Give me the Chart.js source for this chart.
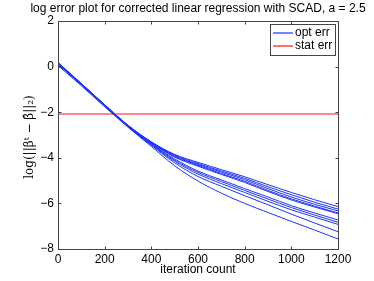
<!DOCTYPE html>
<html><head><meta charset="utf-8">
<script src="https://cdn.jsdelivr.net/npm/chart.js@4"></script>
<style>html,body{margin:0;padding:0;background:#fff}canvas{display:block}</style>
</head><body>
<canvas id="c" width="374" height="281"></canvas>
<script>
const titleText = "log error plot for corrected linear regression with SCAD, a = 2.5";
const xTitle = "iteration count";
const yTitle = "log(||\u03B2\u1D57 \u2212 \u03B2\u0302||\u2082)";
const legendLabels = ["opt err", "stat err"];
const iterations = [0,100,200,300,400,500,600,700,800,900,1000,1100,1200];
const optErr1 = [0.18,-0.74,-1.67,-2.57,-3.30,-3.85,-4.20,-4.52,-4.83,-5.18,-5.52,-5.84,-6.14];
const optErr2 = [0.17,-0.75,-1.68,-2.58,-3.31,-3.88,-4.25,-4.58,-4.90,-5.27,-5.62,-5.95,-6.25];
const optErr3 = [0.16,-0.75,-1.68,-2.58,-3.32,-3.91,-4.29,-4.63,-4.96,-5.35,-5.72,-6.04,-6.33];
const optErr4 = [0.16,-0.76,-1.69,-2.59,-3.34,-3.94,-4.33,-4.69,-5.03,-5.43,-5.80,-6.12,-6.42];
const optErr5 = [0.15,-0.76,-1.69,-2.60,-3.35,-3.97,-4.37,-4.73,-5.08,-5.48,-5.85,-6.16,-6.45];
const optErr6 = [0.14,-0.77,-1.70,-2.61,-3.38,-4.05,-4.58,-4.97,-5.35,-5.72,-6.10,-6.42,-6.73];
const optErr7 = [0.13,-0.77,-1.70,-2.62,-3.40,-4.10,-4.64,-5.04,-5.43,-5.81,-6.18,-6.51,-6.83];
const optErr8 = [0.12,-0.78,-1.71,-2.63,-3.42,-4.15,-4.71,-5.13,-5.52,-5.91,-6.28,-6.60,-6.92];
const optErr9 = [0.10,-0.80,-1.73,-2.64,-3.45,-4.22,-4.82,-5.25,-5.66,-6.06,-6.47,-6.86,-7.24];
const optErr10 = [0.05,-0.84,-1.76,-2.66,-3.50,-4.35,-5.02,-5.55,-6.00,-6.40,-6.79,-7.17,-7.56];
const statErrX = [0,1200];
const statErrY = [-2.08,-2.08];
const xTicks = [0,200,400,600,800,1000,1200];
const yTicks = [-8,-6,-4,-2,0,2];

const BLUE = 'rgb(30,50,255)';
const RED = 'rgb(255,20,20)';
const FONT = '"Liberation Sans", Arial, sans-serif';

const optSeries = [optErr1,optErr2,optErr3,optErr4,optErr5,optErr6,optErr7,optErr8,optErr9,optErr10];
const datasets = optSeries.map((s,i)=>({
  label: legendLabels[0],
  data: iterations.map((x,j)=>({x:x,y:s[j]})),
  borderColor: BLUE, borderWidth: 1, pointRadius: 0, fill:false,
  cubicInterpolationMode: 'monotone'
}));
datasets.push({
  label: legendLabels[1],
  data: statErrX.map((x,j)=>({x:x,y:statErrY[j]})),
  borderColor: RED, borderWidth: 1.2, pointRadius: 0, fill:false
});

const deco = {
  id:'deco',
  afterDraw(chart){
    const ctx = chart.ctx, a = chart.chartArea;
    const xs = chart.scales.x, ys = chart.scales.y;
    ctx.save();
    ctx.strokeStyle = '#444'; ctx.lineWidth = 1;
    const L = Math.round(a.left)+0.5, R = Math.round(a.right)+0.5, T = Math.round(a.top)+0.5, B = Math.round(a.bottom)+0.5;
    ctx.strokeRect(L, T, R-L, B-T);
    ctx.beginPath();
    xTicks.forEach(v=>{ const p = Math.round(xs.getPixelForValue(v))+0.5;
      ctx.moveTo(p,B); ctx.lineTo(p,B-3); ctx.moveTo(p,T); ctx.lineTo(p,T+3); });
    yTicks.forEach(v=>{ const p = Math.round(ys.getPixelForValue(v))+0.5;
      ctx.moveTo(L,p); ctx.lineTo(L+3,p); ctx.moveTo(R,p); ctx.lineTo(R-3,p); });
    ctx.stroke();
    // title
    ctx.fillStyle = '#000';
    ctx.font = '12px ' + FONT;
    ctx.textAlign = 'center'; ctx.textBaseline = 'middle';
    ctx.fillText(titleText, (a.left+a.right)/2, 9);
    ctx.fillText(xTitle, (a.left+a.right)/2, 270);
    // y title
    ctx.save();
    ctx.translate(30, (a.top+a.bottom)/2 + 2);
    ctx.rotate(-Math.PI/2);
    ctx.font = '12px "DejaVu Serif", "Liberation Serif", serif';
    ctx.fillText(yTitle, 0, 0);
    ctx.restore();
    // legend
    const lx = 270, ly = 24, lw = 65, lh = 31;
    ctx.fillStyle = '#fff';
    ctx.fillRect(lx, ly, lw, lh);
    ctx.strokeStyle = '#444';
    ctx.strokeRect(lx+0.5, ly+0.5, lw, lh);
    const colors = [BLUE, RED];
    legendLabels.forEach((lab,i)=>{
      const yy = ly + 9 + i*13;
      ctx.strokeStyle = colors[i]; ctx.lineWidth = 1.2;
      ctx.beginPath(); ctx.moveTo(lx+3, yy); ctx.lineTo(lx+23, yy); ctx.stroke();
      ctx.fillStyle = '#000'; ctx.textAlign='left'; ctx.font = '12px ' + FONT;
      ctx.fillText(lab, lx+25, yy);
    });
    ctx.restore();
  }
};

new Chart(document.getElementById('c'), {
  type:'line',
  data:{datasets},
  options:{
    responsive:false, animation:false,
    layout:{padding:{left:0,right:36,top:21,bottom:0}},
    plugins:{legend:{display:false}, title:{display:false}, tooltip:{enabled:false}},
    scales:{
      x:{type:'linear', min:0, max:1200,
        afterBuildTicks(s){ s.ticks = xTicks.map(v=>({value:v})); },
        afterFit(s){ s.height = 32; },
        grid:{display:false, drawTicks:false}, border:{display:false},
        ticks:{color:'#000', font:{family:FONT, size:12}, padding:3, maxRotation:0, autoSkip:false,
          callback:(v)=>String(v)}
      },
      y:{type:'linear', min:-8, max:2,
        afterBuildTicks(s){ s.ticks = yTicks.map(v=>({value:v})); },
        afterFit(s){ s.width = 58; },
        grid:{display:false, drawTicks:false}, border:{display:false},
        ticks:{color:'#000', font:{family:FONT, size:12}, padding:4,
          callback:(v)=> (v<0 ? '\u2212'+Math.abs(v) : String(v))}
      }
    }
  },
  plugins:[deco]
});
</script>
</body></html>
